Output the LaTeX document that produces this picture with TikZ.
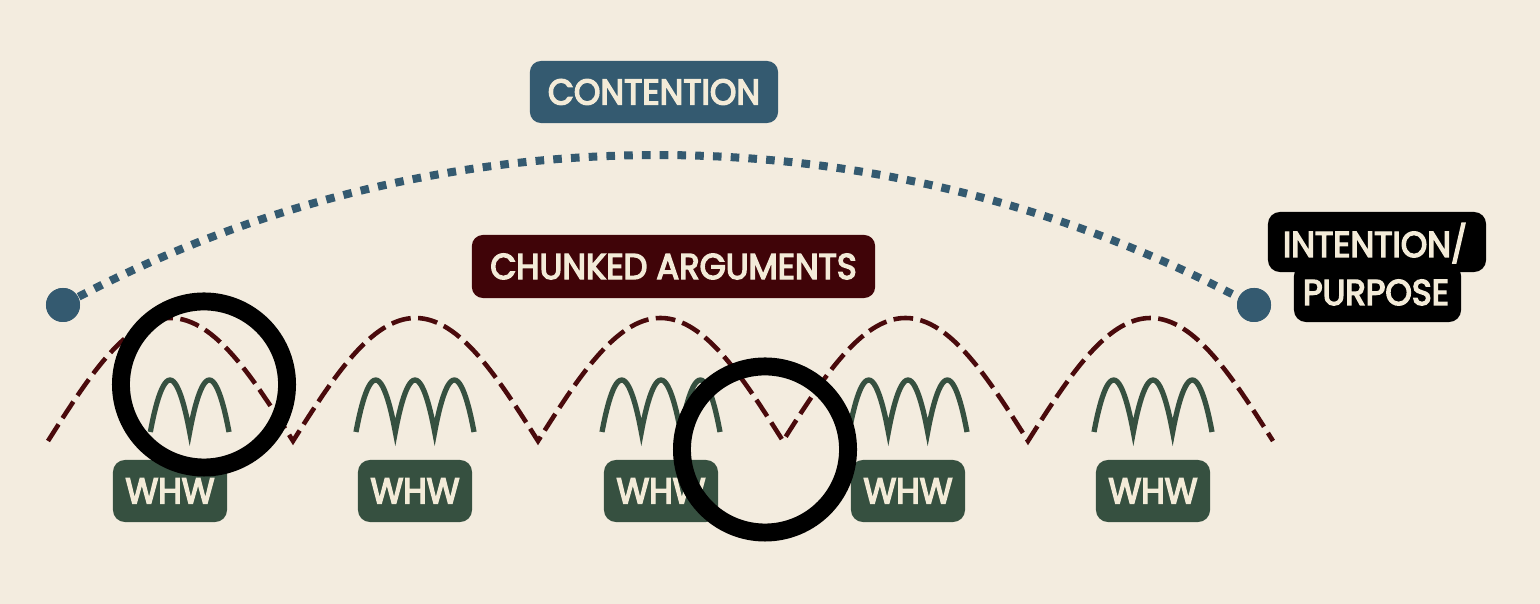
\documentclass[tikz,border=0pt]{standalone}
\usepackage{fontspec}
\newfontfamily\lblfont{Poppins}[FakeBold=4, FakeStretch=0.94]
\definecolor{bgc}{HTML}{F3ECDF}
\definecolor{slate}{HTML}{345A70}
\definecolor{maroon}{HTML}{400408}
\definecolor{dmaroon}{HTML}{4A0A0C}
\definecolor{forest}{HTML}{365040}
\definecolor{cream}{HTML}{F3EBD8}
\tikzset{
  label box/.style={rounded corners=0.11cm, inner sep=0pt, text=cream,
    font=\fontsize{10.2}{12}\lblfont},
  topbox/.style={label box, fill=slate, minimum width=2.48cm, minimum height=0.62cm},
  chunkbox/.style={label box, fill=maroon, minimum width=4.03cm, minimum height=0.63cm},
  whwbox/.style={label box, fill=forest, minimum width=1.14cm, minimum height=0.62cm, rounded corners=0.12cm},
  blackbox/.style={fill=black, rounded corners=0.12cm, inner sep=0pt},
  iptext/.style={text=cream, inner sep=0pt, anchor=base, font=\fontsize{10.2}{12}\lblfont},
  enddot/.style={circle, fill=slate, minimum size=0.34cm, inner sep=0pt},
  dotarc/.style={draw=slate, line width=2.28pt, dash pattern=on 2.45pt off 2.6pt},
  humps/.style={draw=dmaroon, line width=1.3pt, dash pattern=on 5.6pt off 2.1pt, line join=miter},
  arches/.style={draw=forest, line width=1.5pt, line join=miter},
  ring/.style={circle, draw=black, line width=5.1pt, minimum size=1.66cm, inner sep=0pt},
}
\begin{document}
\begin{tikzpicture}[x=0.01cm, y=0.01cm]
\fill[bgc] (0,0) rectangle (1540,604);
\useasboundingbox (0,0) rectangle (1540,604);

% end dots and dotted arc
\node[enddot] (dotL) at (63,299) {};
\node[enddot] (dotR) at (1254,299) {};
\draw[dotarc] (dotL.center) arc[start angle=118.3, end angle=61.7, radius=1255];
\node[enddot] at (dotL) {};
\node[enddot] at (dotR) {};

% label boxes
\node[topbox] (contention) at (654,512) {CONTENTION};
\node[chunkbox] (chunked) at (673.5,337.5) {CHUNKED ARGUMENTS};

% intention / purpose
\node[blackbox, minimum width=2.18cm, minimum height=0.60cm] (ipTop) at (1377,362) {};
\node[blackbox, minimum width=1.67cm, minimum height=0.58cm] (ipBot) at (1377.5,311) {};
\node[iptext] (ip1) at (1375,347) {INTENTION/};
\node[iptext] (ip2) at (1376,299) {PURPOSE};

% dashed humps
\foreach \i in {0,...,5} {
  \coordinate (h\i) at (48+245*\i,163);
}
\foreach \i in {1,...,5} {
  \coordinate (p\i) at (48+245*\i-122.5,286);
}
\draw[humps] (h0) sin (p1) cos (h1) sin (p2) cos (h2) sin (p3) cos (h3)
  sin (p4) cos (h4) sin (p5) cos (h5);

% green arches
\foreach \c [count=\k] in {170,415,661,908,1153} {
  \coordinate (a\k0) at (\c-59,172);
  \coordinate (a\k1) at (\c-19.67,172);
  \coordinate (a\k2) at (\c+19.67,172);
  \coordinate (a\k3) at (\c+59,172);
  \coordinate (t\k1) at (\c-39.33,224);
  \coordinate (t\k2) at (\c,224);
  \coordinate (t\k3) at (\c+39.33,224);
}
\draw[arches] (a11) parabola bend (t12) (a12) parabola bend (t13) (a13);
\foreach \k in {2,...,5} {
  \draw[arches] (a\k0) parabola bend (t\k1) (a\k1) parabola bend (t\k2) (a\k2)
    parabola bend (t\k3) (a\k3);
}

% WHW boxes
\foreach \c [count=\k] in {170,415,661,908,1153} {
  \node[whwbox] (w\k) at (\c,113) {WHW};
}

% rings
\node[ring] (ring1) at (204,219.5) {};
\node[ring] (ring2) at (765,154.5) {};
\end{tikzpicture}
\end{document}
